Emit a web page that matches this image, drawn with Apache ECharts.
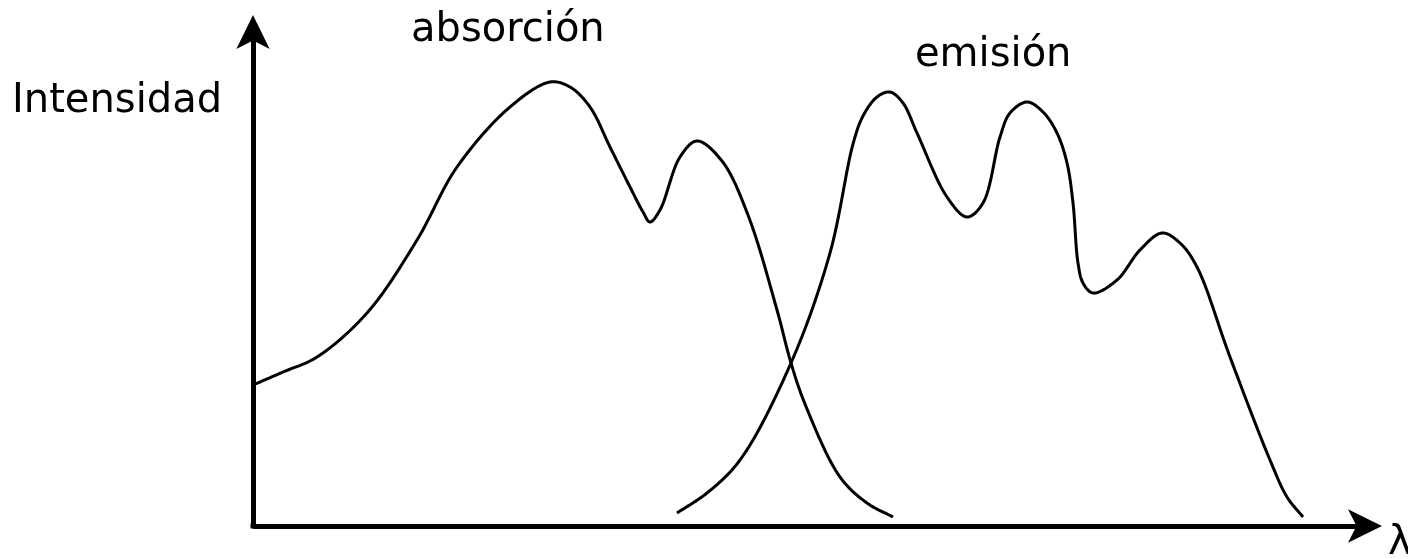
<!DOCTYPE html>
<html>
<head>
<meta charset="utf-8">
<script src="https://cdn.jsdelivr.net/npm/echarts@6/dist/echarts.min.js"></script>
<style>
  html, body { margin: 0; padding: 0; background: #fff; }
  #chart { width: 1408px; height: 559px; }
</style>
</head>
<body>
<div id="chart"></div>
<script>
// points: [wavelength, intensity] in arbitrary units
const absorcion = [
  [0, 141], [30, 154], [64, 169], [114, 213], [164, 286], [204, 359],
  [257, 419], [297, 444], [317, 439], [337, 419], [357, 379], [377, 339],
  [390, 314], [397, 304], [407, 316], [427, 369], [444, 385], [469, 365],
  [495, 311], [524, 216], [538, 163], [552, 122], [587, 49], [614, 23],
  [640, 9]
];
const emision = [
  [424, 13], [454, 33], [487, 66], [538, 163], [577, 273], [600, 382],
  [610, 410], [624, 429], [637, 434], [650, 423], [664, 393], [694, 329],
  [714, 309], [730, 323], [747, 389], [757, 413], [774, 424], [790, 414],
  [804, 393], [814, 363], [820, 323], [825, 263], [830, 243], [840, 233],
  [864, 246], [887, 276], [909, 293], [927, 283], [944, 259], [977, 169],
  [1017, 66], [1034, 29], [1050, 9]
];
const labels = ["absorción", "emisión"];
const yName = "Intensidad";
const xName = "λ";

const chart = echarts.init(document.getElementById("chart"));

// centripetal Catmull-Rom stroke through the pixel positions of the points
function spline(pts) {
  const n = pts.length;
  const ext = [
    [2 * pts[0][0] - pts[1][0], 2 * pts[0][1] - pts[1][1]]
  ].concat(pts, [[2 * pts[n - 1][0] - pts[n - 2][0], 2 * pts[n - 1][1] - pts[n - 2][1]]]);
  const knot = (a, b) => Math.pow(Math.hypot(b[0] - a[0], b[1] - a[1]), 0.5) || 1e-6;
  const lerp = (a, b, ta, tb, t) => {
    const w = (t - ta) / (tb - ta);
    return [a[0] + (b[0] - a[0]) * w, a[1] + (b[1] - a[1]) * w];
  };
  const out = [];
  for (let i = 1; i < ext.length - 2; i++) {
    const p0 = ext[i - 1], p1 = ext[i], p2 = ext[i + 1], p3 = ext[i + 2];
    const t0 = 0, t1 = t0 + knot(p0, p1), t2 = t1 + knot(p1, p2), t3 = t2 + knot(p2, p3);
    for (let s = 0; s < 16; s++) {
      const t = t1 + (t2 - t1) * s / 16;
      const a1 = lerp(p0, p1, t0, t1, t), a2 = lerp(p1, p2, t1, t2, t), a3 = lerp(p2, p3, t2, t3, t);
      const b1 = lerp(a1, a2, t0, t2, t), b2 = lerp(a2, a3, t1, t3, t);
      out.push(lerp(b1, b2, t1, t2, t));
    }
  }
  out.push(pts[n - 1]);
  return out;
}

function curveSeries(name, data) {
  return {
    name: name,
    type: "custom",
    coordinateSystem: "cartesian2d",
    data: data,
    renderItem: function (params, api) {
      if (params.dataIndex !== 0) return null;
      const pts = data.map(function (d) { return api.coord(d); });
      return {
        type: "polyline",
        shape: { points: spline(pts) },
        style: { stroke: "#000", lineWidth: 3, fill: null, lineJoin: "round" }
      };
    }
  };
}

const axisLine = {
  show: true,
  symbol: ["none", "arrow"],
  symbolSize: [25, 34],
  symbolOffset: [0, 8],
  lineStyle: { color: "#000", width: 5, cap: "butt" }
};

const font = "40px 'DejaVu Sans'";

chart.setOption({
  animation: false,
  backgroundColor: "#fff",
  grid: { left: 253, right: 34, top: 23, bottom: 33 },
  xAxis: {
    type: "value",
    min: 0,
    max: 1121,
    axisLine: axisLine,
    axisTick: { show: false },
    axisLabel: { show: false },
    splitLine: { show: false }
  },
  yAxis: {
    type: "value",
    min: 0,
    max: 503,
    axisLine: axisLine,
    axisTick: { show: false },
    axisLabel: { show: false },
    splitLine: { show: false }
  },
  series: [
    curveSeries(labels[0], absorcion),
    curveSeries(labels[1], emision)
  ],
  graphic: [
    // corner fill where the two axis lines meet
    {
      type: "rect", left: 250.5, top: 523.5,
      shape: { width: 5, height: 5 },
      style: { fill: "#000" }
    },
    {
      type: "text", left: 12, top: 82,
      style: { text: yName, font: font, fill: "#000" }
    },
    {
      type: "text", left: 411, top: 11,
      style: { text: labels[0], font: font, fill: "#000" }
    },
    {
      type: "text", left: 915, top: 36,
      style: { text: labels[1], font: font, fill: "#000" }
    },
    {
      type: "text", left: 1388, top: 524,
      style: { text: xName, font: font, fill: "#000" }
    }
  ]
});
</script>
</body>
</html>
